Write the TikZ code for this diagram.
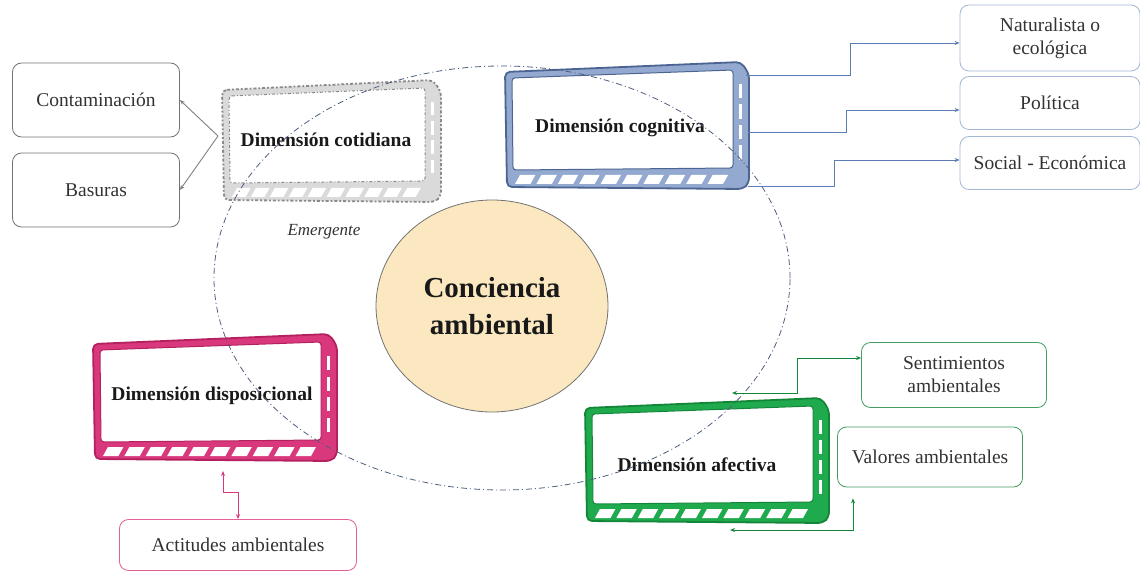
\documentclass[tikz,border=0pt]{standalone}
\usepackage{fontspec}
\setmainfont{Liberation Serif}
\usetikzlibrary{arrows.meta,calc,shapes.geometric}
\definecolor{cogc}{HTML}{93A9D0}
\definecolor{cogd}{HTML}{4C6491}
\definecolor{disc}{HTML}{D9387C}
\definecolor{disd}{HTML}{B4215E}
\definecolor{afec}{HTML}{1FAA4D}
\definecolor{afed}{HTML}{13863A}
\definecolor{cotc}{HTML}{DADADA}
\definecolor{cotd}{HTML}{8A8A8A}
\definecolor{bluel}{HTML}{5A7DB5}
\definecolor{circf}{HTML}{FBE8C0}
\definecolor{ellc}{HTML}{4E5D80}
\definecolor{txt}{HTML}{333333}
\newcommand\dimshape[7]{%
  \filldraw[fill=#1,draw=#2,line width=1.8pt,rounded corners=5pt,#7]
    ({#3},{#4+10}) -- ({#5-8},{#4}) -- ({#5},{#4+12}) -- ({#5},{#6-6}) -- ({#5-6},{#6}) -- ({#3+2},{#6-2}) -- cycle;
  \filldraw[fill=white,draw=#2,line width=1pt,rounded corners=3pt,#7]
    ({#3+7},{#4+16}) -- ({#5-16},{#4+8}) -- ({#5-16},{#6-21}) -- ({#3+8},{#6-19}) -- cycle;
  \pgfmathsetmacro\bw{(#5-#3-30)/10}
  \foreach \i in {0,...,9}{
    \fill[white] ({#3+10+\i*\bw},{#6-5}) -- ({#3+10+(\i+0.72)*\bw},{#6-5}) -- ({#3+15+(\i+0.72)*\bw},{#6-14}) -- ({#3+15+\i*\bw},{#6-14}) -- cycle;
  }
  \pgfmathsetmacro\rh{(#6-#4-45)/4}
  \foreach \i in {0,...,3}{
    \fill[white] ({#5-10},{#4+22+\i*\rh}) rectangle ({#5-7},{#4+22+(\i+0.7)*\rh});
  }
}
\tikzset{
  sbox/.style={draw, rounded corners=9pt, align=center, fill=white, text=txt,
    font=\fontsize{19.5}{23}\selectfont, line width=0.8pt, inner sep=0pt},
  dimlabel/.style={font=\bfseries\fontsize{19.5}{23}\selectfont, text=black!90},
  conn/.style={line width=0.9pt, -{Stealth[length=5pt,width=4pt]}},
  dconn/.style={line width=0.9pt, {Stealth[length=5pt,width=4pt]}-{Stealth[length=5pt,width=4pt]}}
}
\begin{document}
\begin{tikzpicture}[x=1pt,y=-1pt]
\useasboundingbox (0,0) rectangle (1140,580);
\fill[white] (0,0) rectangle (1140,580);

% three-d boxes
\dimshape{cotc}{cotd}{222}{80}{441}{202}{dash dot}
\dimshape{cogc}{cogd}{505}{62}{749}{189}{}
\dimshape{disc}{disd}{93}{334}{337}{461}{}
\dimshape{afec}{afed}{585}{398}{829}{523}{}

% labels of dimensions
\node[dimlabel] (cot) at (326,140) {Dimensión cotidiana};
\node[dimlabel] (cog) at (620,128) {Dimensión cognitiva};
\node[dimlabel] (dis) at (212,396) {Dimensión disposicional};
\node[dimlabel] (afe) at (697,465) {Dimensión afectiva};

% big dash-dot ellipse
\draw[ellc, line width=0.8pt, dash pattern=on 6pt off 3pt on 1pt off 3pt] (502,278) ellipse [x radius=288pt, y radius=212pt];

% central circle
\node[ellipse, draw=black!55, fill=circf, line width=0.8pt, minimum width=232pt, minimum height=212pt,
      align=center, font=\bfseries\fontsize{29}{37}\selectfont, text=black!90] (cc) at (492,306) {Conciencia\\ambiental};

\node[font=\itshape\fontsize{17}{20}\selectfont, text=txt] (em) at (324,232) {Emergente};

% small boxes
\node[sbox, draw=black!55, minimum width=167pt, minimum height=74pt] (cont) at (96,100) {Contaminación};
\node[sbox, draw=black!55, minimum width=167pt, minimum height=74pt] (bas) at (96,190) {Basuras};
\node[sbox, draw=bluel!55, minimum width=180pt, minimum height=66pt] (nat) at (1050,38) {Naturalista o\\ecológica};
\node[sbox, draw=bluel!55, minimum width=180pt, minimum height=53pt] (pol) at (1050,103) {Política};
\node[sbox, draw=bluel!55, minimum width=180pt, minimum height=53pt] (soc) at (1050,163) {Social - Económica};
\node[sbox, draw=afed!80, minimum width=185pt, minimum height=65pt] (sen) at (954,375) {Sentimientos\\ambientales};
\node[sbox, draw=afed!80, minimum width=185pt, minimum height=60pt] (val) at (930,457) {Valores ambientales};
\node[sbox, draw=disc!80, minimum width=237pt, minimum height=51pt] (act) at (238,545) {Actitudes ambientales};

% connector end points on the 3-d boxes
\coordinate (cotw) at (218,136);
\coordinate (c1) at (746,75);
\coordinate (c2) at (748,132);
\coordinate (c3) at (748,186);
\coordinate (d1) at (223,471);
\coordinate (g1) at (732,393);
\coordinate (g2) at (730,530);

% connectors
\draw[conn, draw=black!50] (cotw) -- (cont.east);
\draw[conn, draw=black!50] (cotw) -- (bas.east);
\draw[conn, draw=bluel] (c1) -- (850,75) |- ([yshift=-5pt]nat.west);
\draw[conn, draw=bluel] (c2) -- (846,132) |- ([yshift=-7pt]pol.west);
\draw[conn, draw=bluel] (c3) -- (834,186) |- ([yshift=3pt]soc.west);
\draw[dconn, draw=disc] (d1) -- (223,492) -| (act.north);
\draw[dconn, draw=afed] (g1) -- (797,393) |- ([yshift=17pt]sen.west);
\draw[dconn, draw=afed] (g2) -- (853,530) -- ([xshift=-77pt,yshift=-11pt]val.south);
\end{tikzpicture}
\end{document}
